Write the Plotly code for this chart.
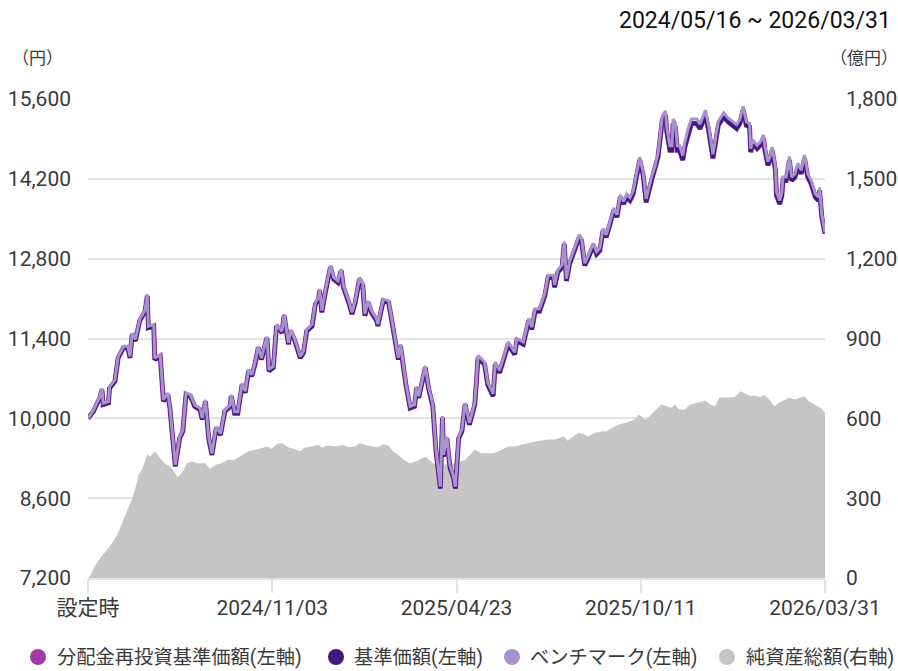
import pandas as pd
import plotly.graph_objects as go

# ---- data ----
launch_date = "2024-05-16"
end_date = "2026-03-31"

# days elapsed since launch for the price series
price_day = [0, 5, 11, 13, 14, 19, 20, 25, 28, 33, 37, 39, 41, 44, 48, 53, 55, 56, 61, 62,
             67, 70, 74, 76, 81, 85, 88, 91, 95, 99, 104, 106, 109, 112, 115, 119, 123, 127, 132, 133,
             136, 139, 143, 146, 149, 152, 155, 158, 161, 166, 168, 172, 175, 180, 182, 186, 188, 192, 197, 200,
             203, 208, 211, 214, 215, 217, 220, 225, 228, 232, 235, 237, 242, 245, 248, 252, 255, 257, 260, 263,
             268, 269, 274, 279, 283, 286, 288, 290, 293, 295, 299, 303, 305, 307, 313, 316, 320, 323, 327, 329,
             330, 333, 336, 339, 341, 344, 347, 350, 354, 359, 362, 368, 371, 376, 378, 382, 390, 396, 398, 404,
             409, 412, 415, 419, 424, 427, 432, 433, 436, 440, 442, 444, 447, 452, 456, 458, 461, 464, 469, 472,
             475, 478, 481, 485, 488, 491, 494, 497, 500, 503, 506, 509, 512, 515, 518, 523, 526, 529, 533, 536,
             537, 540, 542, 543, 545, 547, 549, 552, 554, 557, 560, 565, 568, 573, 576, 580, 585, 590, 594, 602,
             605, 608, 611, 614, 615, 617, 621, 624, 627, 628, 631, 633, 635, 638, 639, 642, 644, 645, 648, 651,
             653, 656, 659, 662, 665, 668, 671, 675, 678, 679, 681, 684]

base_price = [10000, 10120, 10360, 10500, 10240, 10270, 10530, 10650, 11060, 11240, 11240, 11060, 11470, 11360, 11710, 11880, 12150, 11590, 11620, 11030,
              11090, 10300, 10420, 10180, 9160, 9650, 9770, 10420, 10390, 10210, 10150, 9980, 10300, 9650, 9360, 9830, 9710, 10120, 10210, 10390,
              10090, 10090, 10590, 10450, 10830, 10740, 10950, 11240, 11030, 11410, 10830, 10890, 11620, 11500, 11800, 11300, 11530, 11360, 11060, 11150,
              11530, 11620, 12000, 12090, 12240, 11860, 12180, 12650, 12440, 12380, 12590, 12300, 12030, 11830, 12030, 12440, 12330, 11800, 12030, 11860,
              11710, 11620, 12060, 12030, 11590, 11240, 11030, 11270, 10830, 10590, 10180, 10210, 10530, 10360, 10890, 10530, 10210, 9420, 8770, 10010,
              9330, 9650, 9130, 8970, 8770, 9650, 9770, 10240, 9890, 10240, 11060, 10950, 10590, 10390, 10950, 10800, 11300, 11120, 11360, 11300,
              11710, 11560, 11880, 11880, 12150, 12470, 12470, 12300, 12560, 12650, 13060, 12410, 12710, 12970, 13180, 13120, 12680, 12800, 13030, 12880,
              12940, 13290, 13180, 13440, 13650, 13530, 13880, 13760, 13880, 13820, 13940, 14230, 14530, 14290, 13790, 14170, 14350, 14580, 15230, 15320,
              15050, 14700, 14700, 15170, 15110, 14700, 14700, 14530, 14760, 15000, 15170, 15170, 15080, 15320, 15050, 14560, 15140, 15290, 15200, 15080,
              15170, 15410, 15140, 15110, 14670, 14820, 14730, 14790, 14910, 14730, 14440, 14530, 14700, 14350, 13910, 13760, 13910, 14170, 14170, 14530,
              14170, 14230, 14410, 14290, 14560, 14230, 14120, 13880, 13820, 14000, 13530, 13240]

# no distributions paid, so the reinvested NAV equals the base price
reinvest_price = list(base_price)

benchmark = [10000, 10140, 10385, 10525, 10265, 10295, 10555, 10675, 11085, 11265, 11265, 11085, 11495, 11385, 11735, 11905, 12175, 11615, 11645, 11055,
             11115, 10325, 10445, 10205, 9185, 9675, 9795, 10445, 10415, 10235, 10175, 10005, 10325, 9675, 9385, 9855, 9735, 10145, 10235, 10415,
             10115, 10115, 10615, 10475, 10855, 10765, 10975, 11265, 11055, 11435, 10855, 10915, 11645, 11525, 11825, 11325, 11555, 11385, 11085, 11180,
             11560, 11650, 12030, 12120, 12270, 11890, 12210, 12680, 12470, 12410, 12620, 12330, 12060, 11860, 12060, 12470, 12360, 11830, 12060, 11890,
             11740, 11650, 12090, 12060, 11620, 11270, 11060, 11300, 10860, 10620, 10210, 10240, 10560, 10390, 10920, 10560, 10240, 9450, 8800, 10040,
             9360, 9680, 9160, 9000, 8800, 9680, 9800, 10270, 9920, 10270, 11100, 10990, 10630, 10430, 10990, 10840, 11340, 11160, 11400, 11340,
             11750, 11600, 11920, 11920, 12190, 12510, 12510, 12340, 12600, 12690, 13100, 12450, 12750, 13010, 13220, 13160, 12720, 12840, 13070, 12920,
             12980, 13330, 13220, 13480, 13690, 13570, 13920, 13800, 13930, 13870, 13990, 14280, 14580, 14340, 13850, 14230, 14410, 14640, 15300, 15390,
             15120, 14780, 14780, 15250, 15190, 14780, 14780, 14610, 14840, 15080, 15250, 15250, 15160, 15400, 15130, 14630, 15210, 15360, 15270, 15150,
             15240, 15470, 15200, 15170, 14730, 14880, 14790, 14850, 14970, 14790, 14500, 14590, 14760, 14410, 13970, 13820, 13970, 14230, 14230, 14590,
             14230, 14290, 14470, 14350, 14620, 14290, 14180, 13940, 13880, 14050, 13570, 13260]

# days elapsed since launch for the net-assets series
nav_day = [0, 2, 6, 11, 16, 22, 27, 31, 36, 41, 44, 47, 50, 53, 55, 58, 62, 67, 71, 76,
           80, 83, 87, 92, 96, 102, 109, 113, 118, 124, 130, 136, 143, 149, 155, 161, 167, 170, 176, 181,
           186, 192, 197, 201, 208, 214, 217, 223, 231, 237, 242, 248, 252, 259, 265, 269, 274, 279, 283, 288,
           293, 299, 305, 313, 320, 327, 335, 341, 350, 359, 365, 376, 381, 390, 396, 402, 409, 415, 421, 427,
           433, 438, 442, 445, 450, 455, 460, 464, 470, 477, 481, 486, 492, 498, 504, 509, 511, 518, 524, 532,
           537, 541, 545, 548, 554, 559, 565, 573, 577, 582, 586, 592, 600, 606, 611, 615, 618, 623, 628, 632,
           637, 641, 644, 651, 656, 660, 665, 669, 675, 680, 684]

net_assets = [0, 8, 42, 73, 98, 129, 161, 199, 249, 299, 337, 388, 406, 438, 463, 457, 476, 450, 431, 419,
              400, 380, 394, 431, 438, 431, 431, 410, 425, 431, 444, 444, 463, 476, 482, 488, 494, 485, 505, 505,
              490, 484, 476, 490, 494, 501, 490, 498, 494, 501, 491, 494, 507, 498, 494, 491, 503, 498, 476, 463,
              444, 431, 439, 457, 431, 425, 428, 431, 444, 482, 469, 469, 476, 494, 494, 501, 507, 513, 516, 520,
              520, 526, 532, 516, 532, 545, 541, 532, 545, 551, 551, 563, 576, 582, 589, 601, 614, 595, 620, 652,
              645, 639, 652, 633, 633, 652, 658, 667, 652, 645, 677, 679, 679, 702, 692, 683, 687, 679, 687, 671,
              645, 658, 664, 677, 671, 677, 683, 664, 652, 639, 620]

tick_dates = ["2024-05-16", "2024-11-03", "2025-04-23", "2025-10-11", "2026-03-31"]
tick_labels = ["設定時", "2024/11/03", "2025/04/23", "2025/10/11", "2026/03/31"]

left_ticks = [7200, 8600, 10000, 11400, 12800, 14200, 15600]
right_ticks = [0, 300, 600, 900, 1200, 1500, 1800]

series_names = ["分配金再投資基準価額(左軸)", "基準価額(左軸)", "ベンチマーク(左軸)", "純資産総額(右軸)"]
colors = ["#a43aa8", "#3d1a80", "#a892cc", "#c5c5c5"]

# ---- build ----
start = pd.Timestamp(launch_date)
price_dates = start + pd.to_timedelta(price_day, unit="D")
nav_dates = start + pd.to_timedelta(nav_day, unit="D")

FONT = "Roboto, 'Noto Sans CJK JP', sans-serif"
TXT = "#3a3a3a"

# plot box in pixels (for placing the outside texts)
L, R, T, B = 88, 73, 99, 93
PW, PH = 898 - L - R, 671 - T - B


def px(xp):
    return (xp - L) / PW


def py(yp):
    return (671 - B - yp) / PH


fig = go.Figure()

# net assets area (primary y, drawn underneath)
fig.add_trace(go.Scatter(x=nav_dates, y=net_assets, mode="lines", fill="tozeroy",
                         line=dict(width=0, color=colors[3]), fillcolor=colors[3],
                         yaxis="y", name=series_names[3], showlegend=False, hoverinfo="skip"))

# price lines on overlaid y2 (left)
fig.add_trace(go.Scatter(x=price_dates, y=reinvest_price, mode="lines", name=series_names[0],
                         line=dict(width=5, color=colors[0]), yaxis="y2", showlegend=False))
fig.add_trace(go.Scatter(x=price_dates, y=base_price, mode="lines", name=series_names[1],
                         line=dict(width=4, color=colors[1]), yaxis="y2", showlegend=False))
fig.add_trace(go.Scatter(x=price_dates, y=benchmark, mode="lines", name=series_names[2],
                         line=dict(width=3, color=colors[2]), yaxis="y2", showlegend=False))

# legend built from dots + texts to match the reference placement
legend_dot_x = [38, 336, 512, 727]
legend_text_x = [55, 352, 528, 744]
legend_y = 657
shapes = []
annotations = []
for name, c, dx, tx in zip(series_names, colors, legend_dot_x, legend_text_x):
    shapes.append(dict(type="circle", xref="paper", yref="paper",
                       xsizemode="pixel", ysizemode="pixel",
                       xanchor=px(dx), yanchor=py(legend_y),
                       x0=-8, x1=8, y0=-8, y1=8,
                       fillcolor=c, line=dict(width=0)))
    annotations.append(dict(text=name, xref="paper", yref="paper", x=px(tx), y=py(legend_y),
                            xanchor="left", yanchor="middle", showarrow=False,
                            font=dict(size=19.3, color=TXT)))

annotations += [
    dict(text="2024/05/16 ~ 2026/03/31", xref="paper", yref="paper", x=px(893), y=py(20),
         xanchor="right", yanchor="middle", showarrow=False,
         font=dict(size=23, color="#111111")),
    dict(text="（円）", xref="paper", yref="paper", x=px(37), y=py(58), xanchor="center",
         yanchor="middle", showarrow=False, font=dict(size=17, color=TXT)),
    dict(text="（億円）", xref="paper", yref="paper", x=px(864), y=py(58), xanchor="center",
         yanchor="middle", showarrow=False, font=dict(size=17, color=TXT)),
]

fig.update_layout(
    width=898, height=671,
    margin=dict(l=L, r=R, t=T, b=B, autoexpand=False),
    paper_bgcolor="white", plot_bgcolor="white",
    font=dict(family=FONT, size=21, color=TXT),
    showlegend=False,
    xaxis=dict(type="date", range=[launch_date, end_date], automargin=False,
               tickvals=tick_dates, ticktext=tick_labels,
               showgrid=False, zeroline=False,
               showline=True, linecolor="#e3e3e3", linewidth=2,
               ticks="outside", ticklen=13, tickwidth=2, tickcolor="#e3e3e3",
               tickfont=dict(size=21, color=TXT), ticklabelstandoff=-3),
    yaxis=dict(side="right", range=[0, 1800], tickvals=right_ticks, tickformat=",",
               automargin=False,
               showgrid=True, gridcolor="#e3e3e3", gridwidth=2, zeroline=False,
               showline=False, ticks="", ticklabelstandoff=20,
               tickfont=dict(size=21, color=TXT)),
    yaxis2=dict(side="left", overlaying="y", range=[7200, 15600], tickvals=left_ticks,
                automargin=False,
                tickformat=",", showgrid=False, zeroline=False, showline=False,
                ticks="", ticklabelstandoff=16, tickfont=dict(size=21, color=TXT)),
    shapes=shapes,
    annotations=annotations,
)

# remove the browser's default 8px page margin so the figure sits at the window origin
fig.write_html("out.html", config={"displayModeBar": False},
               post_script="document.body.style.margin='0';")
